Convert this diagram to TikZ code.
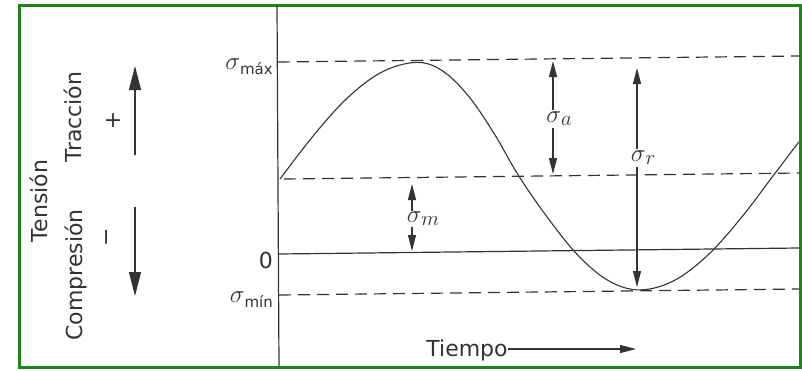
\documentclass[tikz,border=0pt]{standalone}
\usepackage{fontspec}
\setmainfont{DejaVu Sans}
\usetikzlibrary{arrows.meta}
\definecolor{ink}{HTML}{333333}
\definecolor{frame}{HTML}{1A861A}
\newcommand{\sig}{{\fontsize{26}{30}\selectfont$\sigma$}}
\newcommand{\sub}[1]{\raisebox{-0.45ex}{\fontsize{15}{18}\selectfont #1}}
\newcommand{\msub}[1]{\raisebox{-0.5ex}{\fontsize{20}{22}\selectfont$#1$}}
\begin{document}
\begin{tikzpicture}[x=1pt,y=-1pt,
  txt/.style={text=ink,font=\fontsize{22}{26}\selectfont,inner sep=0pt},
  axisline/.style={draw=ink,line width=1.2pt},
  dline/.style={draw=ink,line width=1.2pt,dash pattern=on 12pt off 7pt},
  bigarr/.style={draw=ink,line width=1.2pt,-{Triangle[length=24pt,width=12pt]}},
  smarr/.style={draw=ink,line width=1.1pt,-{Triangle[length=16pt,width=8pt]}},
  lab/.style={text=ink,inner sep=2pt}]
\useasboundingbox (0,0) rectangle (802,370);
\fill[white] (0,0) rectangle (802,370);
% frame
\draw[frame,line width=3pt] (19,5) rectangle (800,367);
% vertical axis
\coordinate (axT) at (277,6);
\coordinate (axB) at (279,366);
\draw[axisline] (axT) -- (axB);
% horizontal lines
\coordinate (maxL) at (278,62);  \coordinate (maxR) at (799,56);
\coordinate (meanL) at (284,179); \coordinate (meanR) at (799,173);
\coordinate (zeroL) at (279,254); \coordinate (zeroR) at (799,248);
\coordinate (minL) at (279,295);  \coordinate (minR) at (799,289);
\draw[dline] (maxL) -- (maxR);
\draw[dline] (meanL) -- (meanR);
\draw[axisline] (zeroL) -- (zeroR);
\draw[dline] (minL) -- (minR);
% curve
\begin{scope}
\clip (279,6) rectangle (798.5,366);
\draw[ink,line width=1.1pt] plot[smooth,tension=0.6] coordinates {
 (280,179) (314.25,134.6) (348.5,96.9) (382.75,71.6) (417,62.4)
 (442.5,70.9) (468,95.5) (493.5,132.5) (519,176.3)
 (549.25,219.9) (579.5,256.9) (609.75,281.4) (640,289.9)
 (673.75,280.7) (707.5,255.4) (741.25,217.7) (775,173.3) (808.75,128.9)};
\end{scope}
% axis labels
\node[txt,anchor=base east] (lmax) at (273,69) {\sig\sub{máx}};
\node[txt,anchor=base east] (lzero) at (273,268) {0};
\node[txt,anchor=base east] (lmin) at (273,302) {\sig\sub{mín}};
% left side texts
\node[txt,rotate=90,anchor=base] (tension) at (47,201) {Tensión};
\node[txt,rotate=90,anchor=base] (traccion) at (81,117) {Tracción};
\node[txt,rotate=90,anchor=base] (compresion) at (82,275) {Compresión};
\node[txt] (plus) at (113,121) {+};
\node[txt,rotate=90] (minus) at (110,237) {−};
\coordinate (upS) at (135,155); \coordinate (upT) at (135,66);
\coordinate (dnS) at (135,207); \coordinate (dnT) at (135,296);
\draw[bigarr] (upS) -- (upT);
\draw[bigarr] (dnS) -- (dnT);
% sigma_a
\node[lab] (sa) at (559,119) {\sig\msub{a}};
\coordinate (saT) at (553,61); \coordinate (saB) at (553,174);
\draw[smarr] (sa.north -| saT) -- (saT);
\draw[smarr] (sa.south -| saB) -- (saB);
% sigma_r
\node[lab] (sr) at (643,158) {\sig\msub{r}};
\coordinate (srT) at (637,68); \coordinate (srB) at (637,287);
\draw[smarr] (sr.north -| srT) -- (srT);
\draw[smarr] (sr.south -| srB) -- (srB);
% sigma_m
\node[lab,inner sep=1pt] (sm) at (423,219) {\sig\msub{m}};
\coordinate (smT) at (412,184); \coordinate (smB) at (412,251);
\draw[smarr] (sm.north -| smT) -- (smT);
\draw[smarr] (sm.south -| smB) -- (smB);
% time
\node[txt,anchor=base] (tiempo) at (467,356) {Tiempo};
\coordinate (tT) at (636,349);
\draw[smarr] (tiempo.east |- tT) -- (tT);
\end{tikzpicture}
\end{document}
